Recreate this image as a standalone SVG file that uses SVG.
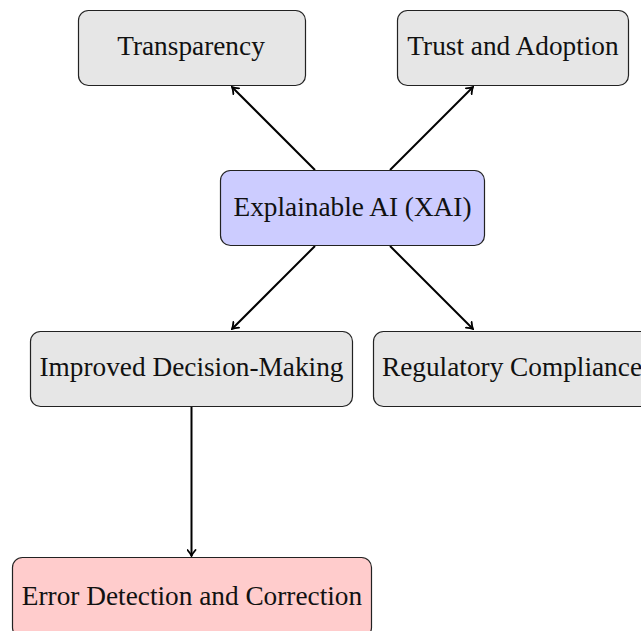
<svg xmlns="http://www.w3.org/2000/svg" width="641" height="631" viewBox="0 0 641 631">
<defs>
<style>
.box{stroke:#222;stroke-width:1.2}
.gray{fill:#e6e6e6}
.blue{fill:#ccccff}
.red{fill:#ffcccc}
.lbl{font-family:"Liberation Serif","Times New Roman",serif;font-size:27.3px;fill:#111;text-anchor:middle}
.edge{stroke:#000;stroke-width:2;fill:none;marker-end:url(#ah)}
</style>
<marker id="ah" viewBox="-6 -5 8 10" markerWidth="8" markerHeight="10" refX="1" refY="0" orient="auto" markerUnits="userSpaceOnUse">
<path d="M-5,-4 Q-1.5,-1 1,0 Q-1.5,1 -5,4" fill="none" stroke="#000" stroke-width="1.8" stroke-linecap="round"/>
</marker>
</defs>
<rect width="641" height="631" fill="#fff"/>
<g id="connectors">
<line class="edge" x1="315" y1="170" x2="232" y2="87"/>
<line class="edge" x1="390" y1="170" x2="473" y2="87"/>
<line class="edge" x1="315" y1="246" x2="232" y2="329"/>
<line class="edge" x1="390" y1="246" x2="473" y2="329"/>
<line class="edge" x1="191.5" y1="406" x2="191.5" y2="556"/>
</g>
<g id="transparency">
<rect class="box gray" x="78.5" y="10.5" width="227" height="75" rx="10"/>
<text class="lbl" x="191" y="55">Transparency</text>
</g>
<g id="trust">
<rect class="box gray" x="397.5" y="10.5" width="231" height="75" rx="10"/>
<text class="lbl" x="513" y="55">Trust and Adoption</text>
</g>
<g id="xai">
<rect class="box blue" x="220.5" y="170.5" width="264" height="75" rx="10"/>
<text class="lbl" x="352.5" y="216">Explainable AI (XAI)</text>
</g>
<g id="decision">
<rect class="box gray" x="30.5" y="331.5" width="322" height="75" rx="10"/>
<text class="lbl" x="191.5" y="376">Improved Decision-Making</text>
</g>
<g id="regulatory">
<rect class="box gray" x="373.5" y="331.5" width="290" height="75" rx="10"/>
<text class="lbl" x="512" y="376">Regulatory Compliance</text>
</g>
<g id="error">
<rect class="box red" x="12.5" y="557.5" width="359" height="80" rx="10"/>
<text class="lbl" x="192" y="605">Error Detection and Correction</text>
</g>
</svg>
